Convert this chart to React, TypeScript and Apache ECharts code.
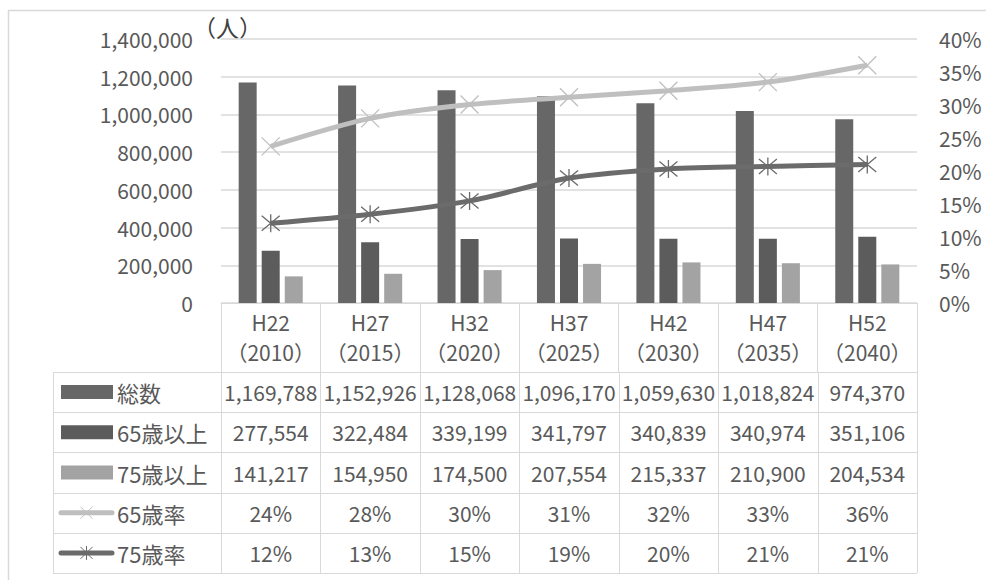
import React, { useEffect, useRef } from 'react';
import * as echarts from 'echarts';

// ---- data ----
const eras = ['H22', 'H27', 'H32', 'H37', 'H42', 'H47', 'H52'];
const years = ['2010', '2015', '2020', '2025', '2030', '2035', '2040'];
const seriesNames = ['総数', '65歳以上', '75歳以上', '65歳率', '75歳率'];
const total = [1169788, 1152926, 1128068, 1096170, 1059630, 1018824, 974370];
const over65 = [277554, 322484, 339199, 341797, 340839, 340974, 351106];
const over75 = [141217, 154950, 174500, 207554, 215337, 210900, 204534];
const rate65 = [0.2373, 0.2797, 0.3007, 0.3118, 0.3217, 0.3347, 0.3603];
const rate75 = [0.1207, 0.1344, 0.1547, 0.1893, 0.2032, 0.207, 0.2099];
const unitLabel = '（人）';

// ---- style / layout ----
const W = 986;
const H = 580;
const FONT = '"Noto Sans CJK JP", "Noto Sans", sans-serif';
const FS = 21;
const FS_NAME = 22;
const TXT = '#595959';
const GRIDC = '#d9d9d9';
const C_TOTAL = '#676767';
const C_65 = '#5c5c5c';
const C_75 = '#a3a3a3';
const C_L65 = '#bfbfbf';
const C_L75 = '#6b6b6b';

const gLeft = 221;
const gRight = 917;
const gTop = 39;
const gBottom = 303;
const headerBottom = 372;
const tableBottom = 573;
const tableLeft = 53;

const X_SYMBOL = 'path://M0 0L10 10M10 0L0 10';
const AST_SYMBOL = 'path://M0 0L10 10M10 0L0 10M5 -1L5 11';

function fmt(n: number) {
  return n.toLocaleString('en-US');
}

function buildTable() {
  const els: any[] = [];
  const n = eras.length;
  const colW = (gRight - gLeft) / n;
  const rowH = (tableBottom - headerBottom) / 5;
  const line = (x1: number, y1: number, x2: number, y2: number, color = GRIDC, width = 1) => ({
    type: 'line',
    silent: true,
    shape: { x1, y1, x2, y2 },
    style: { stroke: color, lineWidth: width },
  });
  for (let r = 0; r <= 5; r++) {
    const y = Math.round(headerBottom + rowH * r) + 0.5;
    els.push(line(tableLeft, y, gRight, y));
  }
  els.push(line(tableLeft + 0.5, headerBottom, tableLeft + 0.5, tableBottom));
  for (let c = 0; c <= n; c++) {
    const x = Math.round(gLeft + colW * c) + 0.5;
    els.push(line(x, headerBottom, x, tableBottom));
  }
  const rows: string[][] = [
    total.map(fmt),
    over65.map(fmt),
    over75.map(fmt),
    rate65.map((v) => Math.round(v * 100) + '%'),
    rate75.map((v) => Math.round(v * 100) + '%'),
  ];
  rows.forEach((vals, r) => {
    const cy = headerBottom + rowH * (r + 0.5);
    vals.forEach((v, c) => {
      els.push({
        type: 'text',
        silent: true,
        x: gLeft + colW * (c + 0.5),
        y: cy,
        style: { text: v, fill: TXT, font: `${FS}px ${FONT}`, align: 'center', verticalAlign: 'middle' },
      });
    });
    if (r < 3) {
      const col = [C_TOTAL, C_65, C_75][r];
      els.push({ type: 'rect', silent: true, shape: { x: 61, y: cy - 7, width: 52, height: 14 }, style: { fill: col } });
    } else {
      const col = r === 3 ? C_L65 : C_L75;
      els.push({
        type: 'line',
        silent: true,
        shape: { x1: 61, y1: cy, x2: 112, y2: cy },
        style: { stroke: col, lineWidth: 5, lineCap: 'round' },
      });
      const mx = 86.5;
      const my = cy;
      const s = 6;
      els.push(line(mx - s, my - s, mx + s, my + s, col, 1));
      els.push(line(mx + s, my - s, mx - s, my + s, col, 1));
      if (r === 4) els.push(line(mx, my - s - 1, mx, my + s + 1, col, 1));
    }
    els.push({
      type: 'text',
      silent: true,
      x: 117,
      y: cy,
      style: { text: seriesNames[r], fill: TXT, font: `${FS_NAME}px ${FONT}`, align: 'left', verticalAlign: 'middle' },
    });
  });
  els.push({
    type: 'rect',
    silent: true,
    shape: { x: 8.5, y: 10.5, width: 1200, height: 1200 },
    style: { fill: 'none', stroke: GRIDC, lineWidth: 1.5 },
    z: -10,
  });
  els.push({
    type: 'text',
    silent: true,
    x: 193,
    y: 27,
    style: { text: unitLabel, fill: '#404040', font: `23px ${FONT}`, align: 'left', verticalAlign: 'middle' },
  });
  return els;
}

export default function App() {
  const ref = useRef<HTMLDivElement>(null);
  useEffect(() => {
    document.body.style.margin = '0';
    if (!ref.current) return;
    const chart = echarts.init(ref.current, undefined, { renderer: 'svg' });
    chart.setOption({
      animation: false,
      backgroundColor: '#ffffff',
      textStyle: { fontFamily: FONT },
      grid: { left: gLeft, right: W - gRight, top: gTop, bottom: H - gBottom, containLabel: false },
      xAxis: {
        type: 'category',
        data: eras.map((e, i) => `${e}\n（${years[i]}）`),
        axisLine: { show: true, lineStyle: { color: GRIDC, width: 1 } },
        axisTick: { show: true, length: headerBottom - gBottom, lineStyle: { color: GRIDC, width: 1 } },
        axisLabel: { color: TXT, fontSize: FS, fontFamily: FONT, lineHeight: 30, margin: 4, interval: 0 },
        splitLine: { show: false },
      },
      yAxis: [
        {
          type: 'value',
          min: 0,
          max: 1400000,
          interval: 200000,
          axisLine: { show: false },
          axisTick: { show: false },
          axisLabel: { color: TXT, fontSize: FS, fontFamily: FONT, margin: 28, formatter: (v: number) => fmt(v) },
          splitLine: { show: true, lineStyle: { color: GRIDC, width: 1.5 } },
        },
        {
          type: 'value',
          min: 0,
          max: 0.4,
          interval: 0.05,
          axisLine: { show: false },
          axisTick: { show: false },
          axisLabel: {
            color: TXT,
            fontSize: FS,
            fontFamily: FONT,
            margin: 22,
            formatter: (v: number) => Math.round(v * 100) + '%',
          },
          splitLine: { show: false },
        },
      ],
      series: [
        { name: seriesNames[0], type: 'bar', data: total, barWidth: 18, barGap: '28%', itemStyle: { color: C_TOTAL }, z: 2 },
        { name: seriesNames[1], type: 'bar', data: over65, barWidth: 18, barGap: '28%', itemStyle: { color: C_65 }, z: 2 },
        { name: seriesNames[2], type: 'bar', data: over75, barWidth: 18, barGap: '28%', itemStyle: { color: C_75 }, z: 2 },
        {
          name: seriesNames[3],
          type: 'line',
          yAxisIndex: 1,
          data: rate65,
          smooth: 0.3,
          lineStyle: { color: C_L65, width: 5 },
          symbol: X_SYMBOL,
          symbolSize: 18,
          itemStyle: { color: 'none', borderColor: C_L65, borderWidth: 1.3 },
          z: 5,
        },
        {
          name: seriesNames[4],
          type: 'line',
          yAxisIndex: 1,
          data: rate75,
          smooth: 0.3,
          lineStyle: { color: C_L75, width: 5 },
          symbol: AST_SYMBOL,
          symbolSize: 18,
          itemStyle: { color: 'none', borderColor: C_L75, borderWidth: 1.3 },
          z: 5,
        },
      ],
      graphic: buildTable(),
    });
    return () => chart.dispose();
  }, []);
  return <div ref={ref} style={{ width: W, height: H }} />;
}
